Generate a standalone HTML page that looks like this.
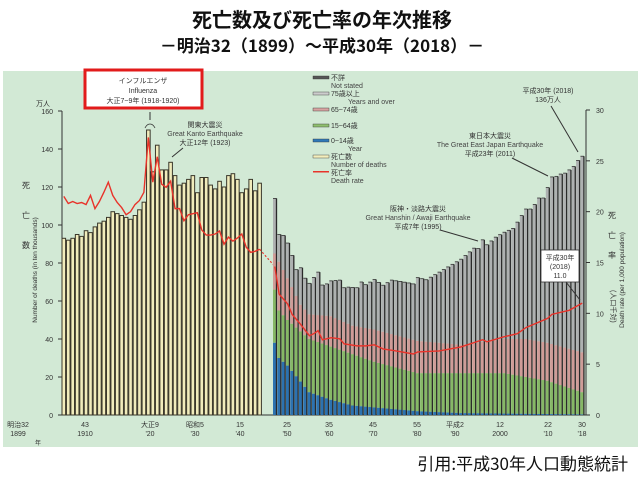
<!DOCTYPE html>
<html><head><meta charset="utf-8"><style>
body{margin:0;background:#fff;width:638px;height:478px;overflow:hidden;font-family:"Liberation Sans","Noto Sans CJK JP",sans-serif}
</style></head><body>
<svg id="s" width="638" height="478" xmlns="http://www.w3.org/2000/svg" font-family="Liberation Sans, Noto Sans CJK JP, sans-serif">
<rect x="3" y="71" width="635" height="376" fill="#d2e9d5"/>
<text x="322" y="27" text-anchor="middle" font-size="20" font-weight="bold" font-family="Noto Sans CJK JP, sans-serif" fill="#111">死亡数及び死亡率の年次推移</text>
<text x="322" y="52" text-anchor="middle" font-size="17" font-weight="bold" font-family="Noto Sans CJK JP, sans-serif" fill="#111">－明治32（1899）～平成30年（2018）－</text>
<text x="628" y="470" text-anchor="end" font-size="17" font-family="Noto Sans CJK JP, sans-serif" fill="#111">引用:平成30年人口動態統計</text>
<g id="g"></g>
</svg>
<script>
const g=document.getElementById('g');let h='';
const Y0=415,K=(415-111)/160;const yv=v=>Y0-v*K;const yr=r=>Y0-r*(415-110)/30;
const X=y=>y<1944?62+(y-1899)*4.45:273+(y-1947)*4.33;
h+=`<line x1="62" y1="111" x2="62" y2="${Y0}" stroke="#333"/><line x1="62" y1="${Y0}" x2="586" y2="${Y0}" stroke="#333"/><line x1="586" y1="110" x2="586" y2="${Y0}" stroke="#333"/>`;
for(let v=0;v<=160;v+=20){h+=`<line x1="58" x2="62" y1="${yv(v)}" y2="${yv(v)}" stroke="#333"/><text x="53" y="${yv(v)+3}" font-size="7" text-anchor="end" fill="#333">${v}</text>`}
for(let r=0;r<=30;r+=5){h+=`<line x1="586" x2="590" y1="${yr(r)}" y2="${yr(r)}" stroke="#333"/><text x="596" y="${yr(r)+3}" font-size="7" fill="#333">${r}</text>`}
h+=`<text x="36" y="106" font-size="7" fill="#333">万人</text>`;
h+=`<text x="22" y="188" font-size="8" fill="#333">死</text><text x="22" y="218" font-size="8" fill="#333">亡</text><text x="22" y="248" font-size="8" fill="#333">数</text>`;
h+=`<text transform="translate(37,270) rotate(-90)" font-size="6.5" text-anchor="middle" fill="#333">Number of deaths (in ten thousands)</text>`;
h+=`<text x="608" y="218" font-size="8" fill="#333">死</text><text x="608" y="238" font-size="8" fill="#333">亡</text><text x="608" y="258" font-size="8" fill="#333">率</text><text transform="translate(611,290) rotate(90)" font-size="7" fill="#333">(人口千対)</text>`;
h+=`<text transform="translate(624,280) rotate(-90)" font-size="6.5" text-anchor="middle" fill="#333">Death rate (per 1,000 population)</text>`;
const pre=[93,92,93,95,94,97,96,99,101,102,104,107,106,105,104,103,105,108,112,150,128,142,129,129,133,126,121,122,124,126,117,125,125,121,119,123,120,126,127,124,117,119,124,118,122];
pre.forEach((v,i)=>{const x=X(1899+i);h+=`<rect x="${x}" y="${yv(v)}" width="3.6" height="${v*K}" fill="#f1ecbc" stroke="#3a372a" stroke-width="1"/>`});
const prR=[21.5,20.8,21,20.8,20.9,20.7,21.6,20.3,21,21.9,22.9,21.6,20.9,20.4,19.7,20,20.7,21.1,21.9,27.3,22.9,25.4,22.7,22.4,23,20.3,20.3,19.1,19.7,19.8,19.9,18.2,17.7,17.7,17.8,18.1,16.8,17.5,17.1,17.4,17.8,16.5,16.0,16.1,16.3];
let p='';prR.forEach((r,i)=>p+=(i?'L':'M')+(X(1899+i)+1.8)+' '+yr(r));
h+=`<path d="${p}" fill="none" stroke="#e8332a" stroke-width="1.4"/>`;
h+=`<path d="M${X(1943)+1.8} ${yr(16.3)}L${X(1947)+2} ${yr(14.6)}" stroke="#e8332a" stroke-dasharray="2,2" stroke-width="1.2"/>`;
const lerp=(pts,y)=>{for(let i=0;i<pts.length-1;i++){if(y>=pts[i][0]&&y<=pts[i+1][0]){const t=(y-pts[i][0])/(pts[i+1][0]-pts[i][0]);return pts[i][1]+t*(pts[i+1][1]-pts[i][1])}}return pts[pts.length-1][1]};
const tot=[[1947,114],[1948,95],[1949,94.5],[1950,90.5],[1951,84],[1952,76.5],[1953,77.5],[1954,72],[1955,69.3],[1956,72.4],[1957,75.2],[1958,68.4],[1959,69.0],[1960,70.6],[1962,71],[1963,67],[1964,67.3],[1966,67],[1967,70],[1968,68.6],[1970,71.3],[1972,68.3],[1974,71],[1976,70.3],[1978,69.5],[1979,69],[1980,72.3],[1982,71.2],[1985,75.2],[1988,79.3],[1990,82],[1993,87.8],[1994,87.6],[1995,92.2],[1996,89.6],[1998,93.6],[2000,96.2],[2002,98.2],[2003,101.5],[2005,108.4],[2006,108.4],[2007,110.8],[2008,114.2],[2009,114.2],[2010,119.7],[2011,125.3],[2012,125.6],[2013,126.8],[2014,127.3],[2015,129],[2016,130.8],[2017,134],[2018,136.2]];
const c14=[[1947,38],[1948,30],[1950,26],[1955,12],[1960,8],[1965,5],[1970,4],[1975,3],[1980,2],[1990,1],[2018,0.3]];
const c64=[[1947,66],[1948,55],[1950,50],[1955,40],[1960,36],[1965,32],[1970,28],[1975,25],[1980,22],[2000,22],[2005,20],[2010,18],[2018,12]];
const c74=[[1947,85],[1950,72],[1953,58],[1955,53],[1960,52],[1965,47],[1970,45],[1975,42],[1980,39],[1990,37],[2000,40],[2005,40],[2010,38],[2018,33]];
let q='';
for(let y=1947;y<=2018;y++){const x=X(y),w=3.5,t=lerp(tot,y),a=lerp(c14,y),b=lerp(c64,y),c=lerp(c74,y);
h+=`<rect x="${x}" y="${yv(t)}" width="${w}" height="${(t-c)*K}" fill="#aeb1b1"/><rect x="${x}" y="${yv(c)}" width="${w}" height="${(c-b)*K}" fill="#cf9c98"/><rect x="${x}" y="${yv(b)}" width="${w}" height="${(b-a)*K}" fill="#86b866"/><rect x="${x}" y="${yv(a)}" width="${w}" height="${a*K}" fill="#2c72b0"/><line x1="${x+w}" x2="${x+w}" y1="${yv(t)}" y2="${Y0}" stroke="#2a2a2a" stroke-width="1.3"/><line x1="${x}" x2="${x+w}" y1="${yv(t)}" y2="${yv(t)}" stroke="#333" stroke-width=".8"/>`;}
const rt=[[1947,14.6],[1948,11.9],[1950,10.9],[1951,9.9],[1953,8.9],[1955,7.8],[1956,8.0],[1957,8.3],[1958,7.4],[1960,7.6],[1962,7.5],[1963,7.0],[1966,6.8],[1967,6.8],[1968,6.8],[1970,6.9],[1972,6.5],[1975,6.3],[1979,6.0],[1980,6.2],[1985,6.3],[1990,6.7],[1995,7.4],[1996,7.2],[2000,7.7],[2003,8.0],[2005,8.6],[2010,9.5],[2011,9.9],[2015,10.3],[2018,11.0]];
rt.forEach((d,i)=>q+=(i?'L':'M')+(X(d[0])+1.8)+' '+yr(d[1]));
h+=`<path d="${q}" fill="none" stroke="#e8332a" stroke-width="1.4"/>`;
const L=[[18,'明治32','1899'],[85,'43','1910'],[150,'大正9',"'20"],[195,'昭和5',"'30"],[240,'15',"'40"],[287,'25',"'50"],[329,'35',"'60"],[373,'45',"'70"],[417,'55',"'80"],[455,'平成2',"'90"],[500,'12','2000'],[548,'22',"'10"],[582,'30',"'18"]];
L.forEach(l=>h+=`<text x="${l[0]}" y="427" font-size="7" text-anchor="middle" fill="#333">${l[1]}</text><text x="${l[0]}" y="436" font-size="7" text-anchor="middle" fill="#333">${l[2]}</text>`);
h+=`<text x="35" y="445" font-size="6" fill="#333">年</text>`;
const lg=[['#555','不詳','Not stated'],['#ccc','75歳以上','Years and over'],['#d7a3a0','65~74歳',''],['#8fbf6e','15~64歳',''],['#2f78b8','0~14歳','Year'],['#f3eebd','死亡数','Number of deaths'],['#e8332a','死亡率','Death rate']];
const ly=[76,92,108,124,139,155,171];
lg.forEach((l,i)=>{h+=`<rect x="313" y="${ly[i]}" width="16" height="${i==6?1.5:3}" fill="${l[0]}" stroke="${i==6?'none':'#333'}" stroke-width=".4"/><text x="331" y="${ly[i]+4}" font-size="7" fill="#333">${l[1]}</text>`;if(l[2])h+=`<text x="${i==1||i==4?'348':'331'}" y="${ly[i]+12}" font-size="7" fill="#444">${l[2]}</text>`;});
h+=`<rect x="85" y="70" width="117" height="38" fill="#fff" stroke="#e21b1b" stroke-width="3"/>`;
h+=`<text x="143" y="83" font-size="7" text-anchor="middle" fill="#333">インフルエンザ</text><text x="143" y="93" font-size="7" text-anchor="middle" fill="#333">Influenza</text><text x="143" y="103" font-size="7" text-anchor="middle" fill="#333">大正7~9年 (1918-1920)</text>`;
h+=`<text x="205" y="127" font-size="7" text-anchor="middle" fill="#333">関東大震災</text><text x="205" y="136" font-size="7" text-anchor="middle" fill="#444">Great Kanto Earthquake</text><text x="205" y="145" font-size="7" text-anchor="middle" fill="#333">大正12年 (1923)</text><line x1="183" y1="148" x2="172" y2="157" stroke="#333"/>`;
h+=`<path d="M145 128 q2 -4 5 -4 q3 0 5 4" fill="none" stroke="#333" stroke-width=".8"/><line x1="150" y1="112" x2="150" y2="120" stroke="#333"/>`;
h+=`<text x="548" y="93" font-size="7" text-anchor="middle" fill="#333">平成30年 (2018)</text><text x="548" y="102" font-size="7" text-anchor="middle" fill="#333">136万人</text><line x1="551" y1="106" x2="578" y2="152" stroke="#333"/>`;
h+=`<text x="490" y="138" font-size="7" text-anchor="middle" fill="#333">東日本大震災</text><text x="490" y="147" font-size="7" text-anchor="middle" fill="#444">The Great East Japan Earthquake</text><text x="490" y="156" font-size="7" text-anchor="middle" fill="#333">平成23年 (2011)</text><line x1="512" y1="158" x2="548" y2="176" stroke="#333"/>`;
h+=`<text x="418" y="211" font-size="7" text-anchor="middle" fill="#333">阪神・淡路大震災</text><text x="418" y="220" font-size="7" text-anchor="middle" fill="#444">Great Hanshin / Awaji Earthquake</text><text x="418" y="229" font-size="7" text-anchor="middle" fill="#333">平成7年 (1995)</text><line x1="440" y1="230" x2="478" y2="241" stroke="#333"/>`;
h+=`<rect x="541" y="250" width="38" height="32" fill="#fff" stroke="#333" stroke-width=".8"/><text x="560" y="260" font-size="7" text-anchor="middle" fill="#333">平成30年</text><text x="560" y="269" font-size="7" text-anchor="middle" fill="#333">(2018)</text><text x="560" y="278" font-size="7" text-anchor="middle" fill="#333">11.0</text><line x1="566" y1="282" x2="580" y2="300" stroke="#333"/>`;
g.innerHTML=h;
</script>
</body></html>
